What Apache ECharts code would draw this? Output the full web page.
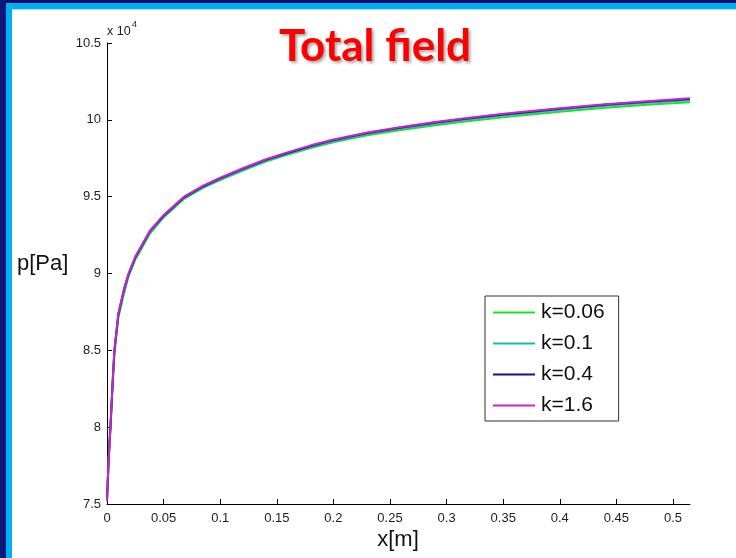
<!DOCTYPE html>
<html>
<head>
<meta charset="utf-8">
<script src="https://cdn.jsdelivr.net/npm/echarts@6/dist/echarts.min.js"></script>
<style>
  html, body { margin: 0; padding: 0; background: #ffffff; }
  #chart { width: 736px; height: 558px; }
</style>
</head>
<body>
<div id="chart"></div>
<script>
// Pressure along the channel, p in units of 1e4 Pa, for four values of k
const xPos = [0, 0.0005, 0.0015, 0.003, 0.005, 0.0065, 0.01, 0.015, 0.019, 0.025,
  0.038, 0.05, 0.068, 0.085, 0.1, 0.12, 0.141, 0.16, 0.18, 0.2,
  0.23, 0.26, 0.29, 0.32, 0.35, 0.37, 0.4, 0.44, 0.48, 0.515];

const pK006 = [7.52, 7.61, 7.78, 7.98, 8.27, 8.47, 8.71, 8.87, 8.98, 9.09,
  9.26, 9.365, 9.485, 9.557, 9.608, 9.67, 9.73, 9.774, 9.817, 9.854,
  9.899, 9.934, 9.965, 9.992, 10.016, 10.031, 10.053, 10.078, 10.099, 10.115];
const pK01 = [7.52, 7.615, 7.79, 7.99, 8.285, 8.485, 8.725, 8.885, 8.99, 9.1,
  9.27, 9.371, 9.491, 9.563, 9.614, 9.675, 9.735, 9.78, 9.823, 9.861,
  9.907, 9.943, 9.975, 10.003, 10.028, 10.043, 10.065, 10.091, 10.112, 10.128];
const pK04 = [7.52, 7.62, 7.8, 8.0, 8.295, 8.495, 8.735, 8.895, 8.995, 9.105,
  9.276, 9.376, 9.496, 9.568, 9.619, 9.681, 9.741, 9.786, 9.83, 9.868,
  9.914, 9.95, 9.982, 10.01, 10.035, 10.05, 10.072, 10.098, 10.119, 10.136];
const pK16 = [7.52, 7.62, 7.8, 8.0, 8.3, 8.5, 8.74, 8.9, 9.0, 9.11,
  9.28, 9.38, 9.5, 9.572, 9.623, 9.685, 9.745, 9.79, 9.834, 9.872,
  9.918, 9.954, 9.986, 10.014, 10.039, 10.054, 10.076, 10.102, 10.123, 10.14];

const seriesNames = ['k=0.06', 'k=0.1', 'k=0.4', 'k=1.6'];
const seriesColors = ['#1ee21e', '#18b8b8', '#12129a', '#cc22cc'];
const seriesValues = [pK006, pK01, pK04, pK16];

const xTicks = [0, 0.05, 0.1, 0.15, 0.2, 0.25, 0.3, 0.35, 0.4, 0.45, 0.5];
const xTickLabels = ['0', '0.05', '0.1', '0.15', '0.2', '0.25', '0.3', '0.35', '0.4', '0.45', '0.5'];

const chart = echarts.init(document.getElementById('chart'), null, { renderer: 'canvas' });

const series = seriesNames.map((name, i) => ({
  name: name,
  type: 'line',
  data: xPos.map((x, j) => [x, seriesValues[i][j]]),
  showSymbol: false,
  smooth: false,
  lineStyle: { color: seriesColors[i], width: 2, join: 'round' },
  itemStyle: { color: seriesColors[i] },
  z: 2 + i,
  animation: false
}));

const axisFont = 'Arial, "Liberation Sans", sans-serif';

chart.setOption({
  backgroundColor: '#ffffff',
  animation: false,
  grid: { left: 107, right: 46, top: 43, bottom: 54 },
  xAxis: {
    type: 'value',
    min: 0,
    max: 0.515,
    interval: 0.05,
    splitLine: { show: false },
    axisLine: { show: true, onZero: false, lineStyle: { color: '#000', width: 1 } },
    axisTick: { show: true, inside: true, length: 5, customValues: xTicks, lineStyle: { color: '#000' } },
    axisLabel: {
      customValues: xTicks,
      margin: 8,
      fontSize: 13,
      fontFamily: axisFont,
      color: '#1e1e1e',
      formatter: v => xTickLabels[Math.round(v / 0.05)]
    }
  },
  yAxis: {
    type: 'value',
    min: 7.5,
    max: 10.5,
    interval: 0.5,
    splitLine: { show: false },
    axisLine: { show: true, onZero: false, lineStyle: { color: '#000', width: 1 } },
    axisTick: { show: true, inside: true, length: 5, lineStyle: { color: '#000' } },
    axisLabel: { margin: 6, fontSize: 13, fontFamily: axisFont, color: '#1e1e1e' }
  },
  legend: {
    orient: 'vertical',
    left: 485,
    top: 296,
    padding: [6, 14, 5, 8],
    backgroundColor: '#ffffff',
    borderColor: '#333333',
    borderWidth: 1,
    borderRadius: 0,
    icon: 'rect',
    itemWidth: 42,
    itemHeight: 2,
    itemGap: 10,
    textStyle: { fontSize: 21, fontFamily: axisFont, color: '#111', lineHeight: 21, padding: [0, 0, 0, 1] },
    data: seriesNames
  },
  graphic: [
    // slide frame: navy outer band, cyan inner band
    { type: 'rect', left: 0, top: 0, shape: { width: 736, height: 3 }, style: { fill: '#0a0c6e' }, z: 100 },
    { type: 'rect', left: 0, top: 0, shape: { width: 6, height: 558 }, style: { fill: '#0d1878' }, z: 100 },
    { type: 'rect', left: 6, top: 3, shape: { width: 730, height: 6 }, style: { fill: '#00b0f0' }, z: 100 },
    { type: 'rect', left: 6, top: 3, shape: { width: 6, height: 555 }, style: { fill: '#00b0f0' }, z: 100 },
    { type: 'rect', left: 12, top: 9, shape: { width: 724, height: 1 }, style: { fill: '#9fe0f8' }, z: 100 },
    // title
    {
      type: 'text', x: 375, y: 69, z: 100,
      style: {
        text: 'Total field', fill: '#ff0000',
        font: 'bold 44px Lato, "Open Sans", sans-serif',
        textAlign: 'center', textVerticalAlign: 'bottom',
        textShadowColor: 'rgba(0,0,0,0.35)', textShadowBlur: 3,
        textShadowOffsetX: 2, textShadowOffsetY: 2
      }
    },
    // axis names
    {
      type: 'text', x: 17, y: 264, z: 100,
      style: { text: 'p[Pa]', fill: '#111', font: '22px Arial, "Liberation Sans", sans-serif', textVerticalAlign: 'middle' }
    },
    {
      type: 'text', x: 398, y: 540, z: 100,
      style: { text: 'x[m]', fill: '#111', font: '22px Arial, "Liberation Sans", sans-serif', textAlign: 'center', textVerticalAlign: 'middle' }
    },
    // exponent marker of the y axis
    {
      type: 'text', x: 107, y: 32, z: 100,
      style: { text: 'x 10', fill: '#1e1e1e', font: '12.5px Arial, "Liberation Sans", sans-serif', textVerticalAlign: 'middle' }
    },
    {
      type: 'text', x: 132, y: 25, z: 100,
      style: { text: '4', fill: '#1e1e1e', font: '9px Arial, "Liberation Sans", sans-serif', textVerticalAlign: 'middle' }
    }
  ],
  series: series
});
</script>
</body>
</html>
